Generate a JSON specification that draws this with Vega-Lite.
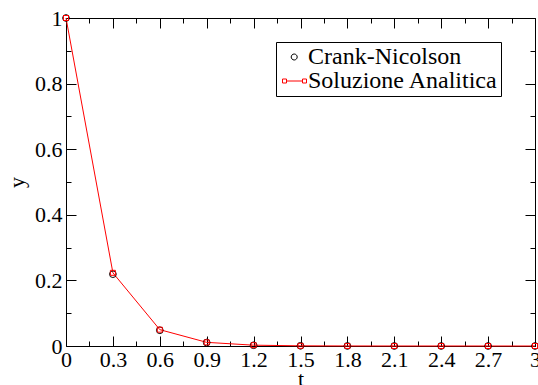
{
  "$schema": "https://vega.github.io/schema/vega-lite/v6.json",
  "width": 469,
  "height": 328,
  "autosize": {"type": "none"},
  "padding": {"left": 66, "top": 18, "right": 3, "bottom": 39},
  "background": "white",
  "config": {
    "font": "Liberation Serif",
    "view": {"stroke": null},
    "axis": {
      "grid": false,
      "domainColor": "black",
      "domainWidth": 1,
      "tickColor": "black",
      "tickWidth": 1,
      "labelFont": "Liberation Serif",
      "labelFontSize": 22,
      "labelColor": "black",
      "labelFlush": false,
      "labelOverlap": false,
      "labelBound": false,
      "titleFont": "Liberation Serif",
      "titleFontSize": 22,
      "titleFontWeight": "normal",
      "titleColor": "black"
    }
  },
  "data": {
    "values": [
      {"t": 0, "y": 1, "series": "Crank-Nicolson"},
      {"t": 0.3, "y": 0.219, "series": "Crank-Nicolson"},
      {"t": 0.6, "y": 0.048, "series": "Crank-Nicolson"},
      {"t": 0.9, "y": 0.0105, "series": "Crank-Nicolson"},
      {"t": 1.2, "y": 0.0023, "series": "Crank-Nicolson"},
      {"t": 1.5, "y": 0.0005, "series": "Crank-Nicolson"},
      {"t": 1.8, "y": 0.0001, "series": "Crank-Nicolson"},
      {"t": 2.1, "y": 0.00002, "series": "Crank-Nicolson"},
      {"t": 2.4, "y": 0, "series": "Crank-Nicolson"},
      {"t": 2.7, "y": 0, "series": "Crank-Nicolson"},
      {"t": 3, "y": 0, "series": "Crank-Nicolson"},
      {"t": 0, "y": 1, "series": "Soluzione Analitica"},
      {"t": 0.3, "y": 0.2231, "series": "Soluzione Analitica"},
      {"t": 0.6, "y": 0.0498, "series": "Soluzione Analitica"},
      {"t": 0.9, "y": 0.0111, "series": "Soluzione Analitica"},
      {"t": 1.2, "y": 0.0025, "series": "Soluzione Analitica"},
      {"t": 1.5, "y": 0.00055, "series": "Soluzione Analitica"},
      {"t": 1.8, "y": 0.00012, "series": "Soluzione Analitica"},
      {"t": 2.1, "y": 0.00003, "series": "Soluzione Analitica"},
      {"t": 2.4, "y": 0.00001, "series": "Soluzione Analitica"},
      {"t": 2.7, "y": 0, "series": "Soluzione Analitica"},
      {"t": 3, "y": 0, "series": "Soluzione Analitica"}
    ]
  },
  "layer": [
    {
      "transform": [{"filter": "datum.series === 'Soluzione Analitica'"}],
      "mark": {"type": "line", "color": "red", "strokeWidth": 1},
      "encoding": {
        "x": {
          "field": "t", "type": "quantitative",
          "scale": {"domain": [0, 3], "nice": false, "zero": false},
          "axis": {
            "orient": "bottom",
            "title": "t",
            "titleY": 39,
            "titleBaseline": "alphabetic",
            "values": [0, 0.15, 0.3, 0.45, 0.6, 0.75, 0.9, 1.05, 1.2, 1.35, 1.5, 1.65, 1.8, 1.95, 2.1, 2.25, 2.4, 2.55, 2.7, 2.85, 3],
            "labelExpr": "round(datum.value*100) % 30 === 0 ? format(datum.value, '~g') : ''",
            "tickSize": {"condition": {"test": "round(datum.value*100) % 30 !== 0", "value": -5}, "value": -10},
            "labelPadding": 13
          }
        },
        "y": {
          "field": "y", "type": "quantitative",
          "scale": {"domain": [0, 1], "nice": false},
          "axis": {
            "orient": "left",
            "title": "y",
            "titleX": -43,
            "titleBaseline": "alphabetic",
            "values": [0, 0.1, 0.2, 0.3, 0.4, 0.5, 0.6, 0.7, 0.8, 0.9, 1],
            "labelExpr": "round(datum.value*10) % 2 === 0 ? format(datum.value, '~g') : ''",
            "tickSize": {"condition": {"test": "round(datum.value*10) % 2 !== 0", "value": -5}, "value": -10},
            "labelPadding": 14
          }
        }
      }
    },
    {
      "transform": [{"filter": "datum.series === 'Crank-Nicolson'"}],
      "mark": {"type": "point", "shape": "circle", "filled": false, "color": "black", "opacity": 1, "strokeWidth": 1, "size": 45},
      "encoding": {
        "x": {
          "field": "t", "type": "quantitative",
          "axis": {
            "orient": "top",
            "title": null,
            "labels": false,
            "values": [0, 0.15, 0.3, 0.45, 0.6, 0.75, 0.9, 1.05, 1.2, 1.35, 1.5, 1.65, 1.8, 1.95, 2.1, 2.25, 2.4, 2.55, 2.7, 2.85, 3],
            "tickSize": {"condition": {"test": "round(datum.value*100) % 30 !== 0", "value": -5}, "value": -10}
          }
        },
        "y": {
          "field": "y", "type": "quantitative",
          "axis": {
            "orient": "right",
            "title": null,
            "labels": false,
            "values": [0, 0.1, 0.2, 0.3, 0.4, 0.5, 0.6, 0.7, 0.8, 0.9, 1],
            "tickSize": {"condition": {"test": "round(datum.value*10) % 2 !== 0", "value": -5}, "value": -10}
          }
        }
      }
    },
    {
      "transform": [{"filter": "datum.series === 'Soluzione Analitica'"}],
      "mark": {"type": "point", "shape": "square", "filled": false, "color": "red", "opacity": 1, "strokeWidth": 1, "size": 25},
      "encoding": {
        "x": {"field": "t", "type": "quantitative", "axis": null},
        "y": {"field": "y", "type": "quantitative", "axis": null}
      }
    },
    {
      "mark": {"type": "point", "filled": false, "opacity": 0, "strokeWidth": 1, "size": 400},
      "encoding": {
        "x": {"field": "t", "type": "quantitative", "axis": null},
        "y": {"field": "y", "type": "quantitative", "axis": null},
        "color": {
          "field": "series", "type": "nominal",
          "scale": {"domain": ["Crank-Nicolson", "Soluzione Analitica"], "range": ["black", "red"]},
          "legend": {
            "title": null,
            "orient": "none",
            "legendX": 210,
            "legendY": 24,
            "strokeColor": "black",
            "padding": 3,
            "rowPadding": -4,
            "labelFont": "Liberation Serif",
            "labelFontSize": 24,
            "labelColor": "black",
            "labelLimit": 400,
            "labelOffset": 5,
            "symbolSize": 400,
            "symbolStrokeWidth": 1,
            "symbolOpacity": 1,
            "symbolFillColor": "transparent"
          }
        },
        "shape": {
          "field": "series", "type": "nominal",
          "scale": {
            "domain": ["Crank-Nicolson", "Soluzione Analitica"],
            "range": [
              "M0.62,0A0.3,0.3,0,1,1,0.02,0A0.3,0.3,0,1,1,0.62,0",
              "M-0.45,0H1.15M-0.85,-0.2H-0.45V0.2H-0.85ZM1.15,-0.2H1.55V0.2H1.15Z"
            ]
          },
          "legend": {
            "title": null,
            "orient": "none",
            "legendX": 210,
            "legendY": 24,
            "strokeColor": "black",
            "padding": 3,
            "rowPadding": -4,
            "labelFont": "Liberation Serif",
            "labelFontSize": 24,
            "labelColor": "black",
            "labelLimit": 400,
            "labelOffset": 5,
            "symbolSize": 400,
            "symbolStrokeWidth": 1,
            "symbolOpacity": 1,
            "symbolFillColor": "transparent"
          }
        }
      }
    }
  ],
  "resolve": {"axis": {"x": "independent", "y": "independent"}}
}
